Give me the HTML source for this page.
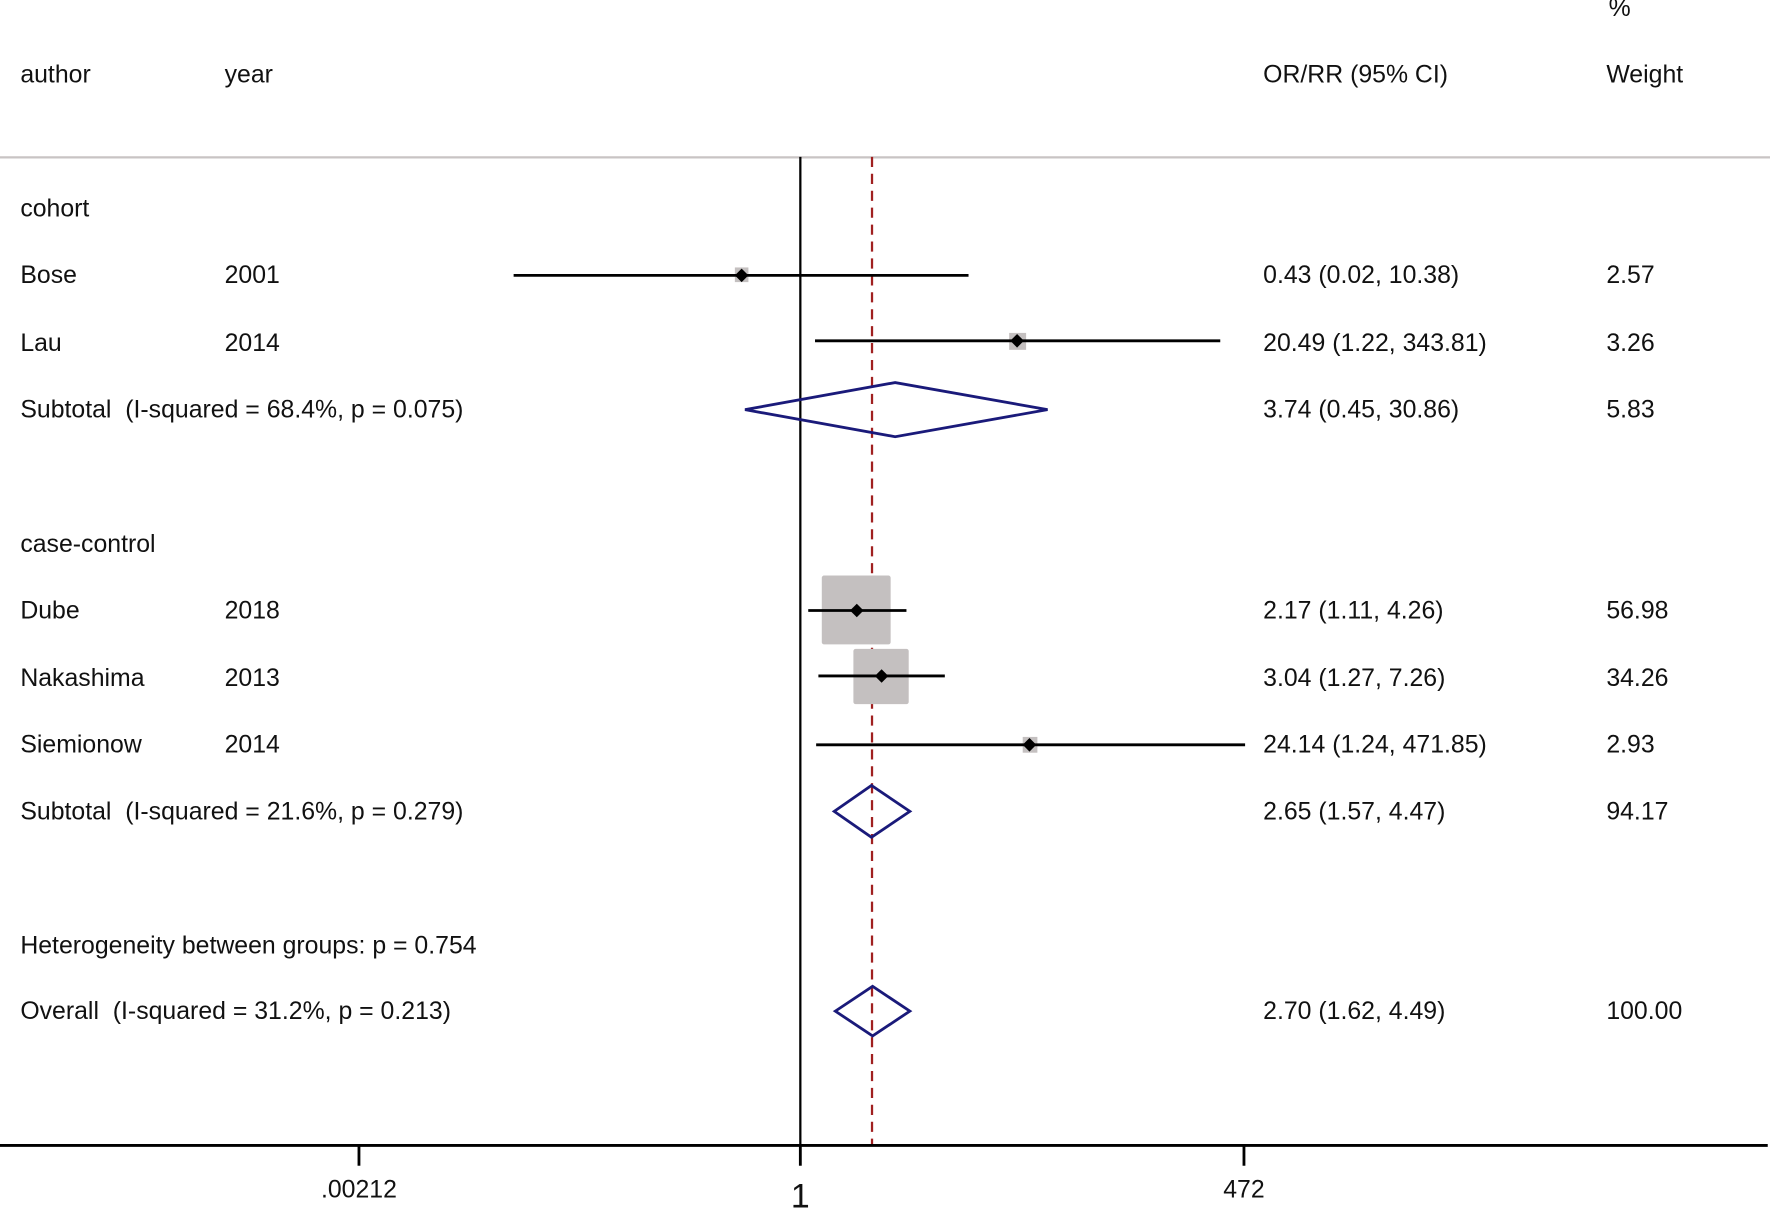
<!DOCTYPE html>
<html><head><meta charset="utf-8"><style>
html,body{margin:0;padding:0;background:#fff;}
svg{display:block;}
text{font-family:"Liberation Sans",Arial,sans-serif;font-size:22px;fill:#111;white-space:pre;}
</style></head><body>
<svg width="1770" height="1212" viewBox="0 0 1568 1074" preserveAspectRatio="none" xmlns="http://www.w3.org/2000/svg" xml:space="preserve">
<rect width="1568" height="1074" fill="#fff"/>
<text x="1425" y="14">%</text>
<text x="18" y="73">author</text>
<text x="199" y="73">year</text>
<text x="1119" y="73">OR/RR (95% CI)</text>
<text x="1423" y="73">Weight</text>
<line x1="0" y1="139.5" x2="1568" y2="139.5" stroke="#c8c4c4" stroke-width="2"/>
<line x1="709" y1="139" x2="709" y2="1015" stroke="#000" stroke-width="2"/>
<line x1="772.5" y1="139" x2="772.5" y2="1015" stroke="#a02020" stroke-width="2" stroke-dasharray="9,6"/>
<rect x="651" y="237" width="12" height="13" fill="#c4c0c0"/>
<rect x="894" y="295" width="15" height="15" fill="#c4c0c0"/>
<rect x="728" y="510" width="61" height="61" rx="2" fill="#c4c0c0"/>
<rect x="756" y="575" width="49" height="49" rx="2" fill="#c4c0c0"/>
<rect x="906" y="653" width="13" height="14" fill="#c4c0c0"/>
<g stroke="#000" stroke-width="2.5">
<line x1="455" y1="244" x2="858" y2="244"/>
<line x1="722" y1="302" x2="1081" y2="302"/>
<line x1="716" y1="541" x2="803" y2="541"/>
<line x1="725" y1="599" x2="837" y2="599"/>
<line x1="723" y1="660" x2="1103" y2="660"/>
</g>
<g fill="#000">
<path d="M657 238 l6 6 -6 6 -6 -6z"/>
<path d="M901 296 l6 6 -6 6 -6 -6z"/>
<path d="M759 535 l6 6 -6 6 -6 -6z"/>
<path d="M781 593 l6 6 -6 6 -6 -6z"/>
<path d="M912 654 l6 6 -6 6 -6 -6z"/>
</g>
<g fill="none" stroke="#1a1a7a" stroke-width="2.5">
<path d="M660 363 L793 339 L928 363 L793 387 Z"/>
<path d="M739 719 L772 696 L806 719 L772 742 Z"/>
<path d="M740 896 L773 874 L806 896 L773 918 Z"/>
</g>
<text x="18" y="192">cohort</text>
<text x="18" y="251">Bose</text><text x="199" y="251">2001</text>
<text x="1119" y="251">0.43 (0.02, 10.38)</text><text x="1423" y="251">2.57</text>
<text x="18" y="311">Lau</text><text x="199" y="311">2014</text>
<text x="1119" y="311">20.49 (1.22, 343.81)</text><text x="1423" y="311">3.26</text>
<text x="18" y="370">Subtotal  (I-squared = 68.4%, p = 0.075)</text>
<text x="1119" y="370">3.74 (0.45, 30.86)</text><text x="1423" y="370">5.83</text>
<text x="18" y="489">case-control</text>
<text x="18" y="548">Dube</text><text x="199" y="548">2018</text>
<text x="1119" y="548">2.17 (1.11, 4.26)</text><text x="1423" y="548">56.98</text>
<text x="18" y="608">Nakashima</text><text x="199" y="608">2013</text>
<text x="1119" y="608">3.04 (1.27, 7.26)</text><text x="1423" y="608">34.26</text>
<text x="18" y="667">Siemionow</text><text x="199" y="667">2014</text>
<text x="1119" y="667">24.14 (1.24, 471.85)</text><text x="1423" y="667">2.93</text>
<text x="18" y="726">Subtotal  (I-squared = 21.6%, p = 0.279)</text>
<text x="1119" y="726">2.65 (1.57, 4.47)</text><text x="1423" y="726">94.17</text>
<text x="18" y="845">Heterogeneity between groups: p = 0.754</text>
<text x="18" y="903">Overall  (I-squared = 31.2%, p = 0.213)</text>
<text x="1119" y="903">2.70 (1.62, 4.49)</text><text x="1423" y="903">100.00</text>
<line x1="0" y1="1015" x2="1566" y2="1015" stroke="#000" stroke-width="2.5"/>
<g stroke="#000" stroke-width="2.5">
<line x1="318" y1="1015" x2="318" y2="1033"/>
<line x1="709" y1="1015" x2="709" y2="1033"/>
<line x1="1102" y1="1015" x2="1102" y2="1033"/>
</g>
<text x="318" y="1061" text-anchor="middle">.00212</text>
<text x="709" y="1070" text-anchor="middle" style="font-size:30px">1</text>
<text x="1102" y="1061" text-anchor="middle">472</text>
</svg>
</body></html>
